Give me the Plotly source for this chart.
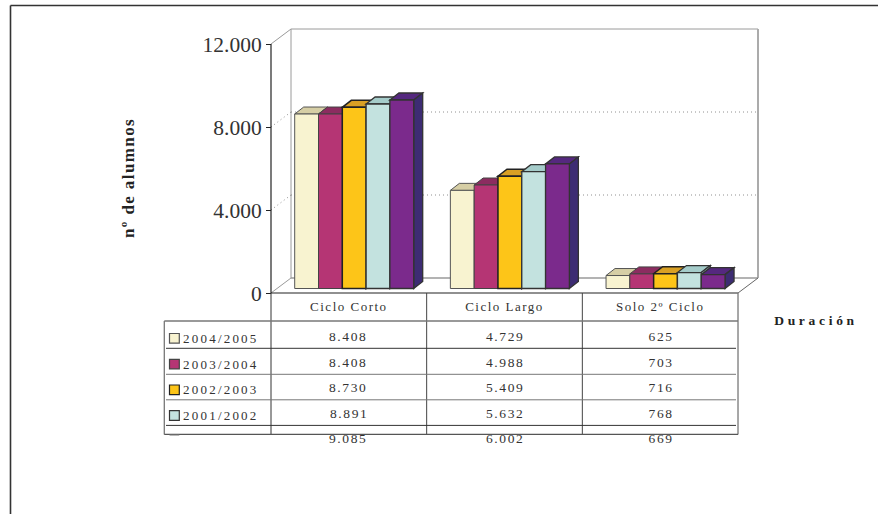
import json
import plotly.graph_objects as go

# ---------- data ----------
categories = ["Ciclo Corto", "Ciclo Largo", "Solo 2º Ciclo"]
series_2004_2005 = [8408, 4729, 625]
series_2003_2004 = [8408, 4988, 703]
series_2002_2003 = [8730, 5409, 716]
series_2001_2002 = [8891, 5632, 768]
series_last = [9085, 6002, 669]
series_values = [series_2004_2005, series_2003_2004, series_2002_2003, series_2001_2002, series_last]
series_names = ["2004/2005", "2003/2004", "2002/2003", "2001/2002", ""]
y_ticks = [0, 4000, 8000, 12000]
y_ticktext = ["0", "4.000", "8.000", "12.000"]

# ---------- styles ----------
front = ["#F8F3D0", "#B53574", "#FDC518", "#C3E2DF", "#7B2A8C"]
top = ["#D6CEA5", "#8C2C60", "#D9A024", "#A5CCCA", "#55287F"]
side = ["#B8B08A", "#6E2350", "#B08420", "#8FB5B3", "#3D2C73"]
edge = ["#555555", "#444444", "#222222", "#333333", "#333333"]
edge_w = [1, 1, 1.5, 1.3, 1.3]
FONT = "Liberation Serif"
INK = "#333333"

W, H = 878, 514
X0, Y0 = 271, 293            # origin of the front floor edge, pixels
UX = 155.67                  # pixels per category
UY = 249 / 12000             # pixels per unit of value
WALL_DX, WALL_DY = 20 / UX, 15 / UY
BAR_DX, BAR_DY = 9 / UX, 7 / UY
BAR_W = 23.8 / UX
BAR_LEFT = 23.7 / UX
BAR_BASE = 4.5 / UY
L, R, T, B = 262, 772, 20, 298
DOTS = "1px,3px"


def px(x):
    return x / W


def py(y):
    return 1 - y / H


shapes = []


def line(x0, y0, x1, y1, color, width=1, dash="solid", xref="x", yref="y", layer="below"):
    shapes.append(dict(type="line", x0=x0, y0=y0, x1=x1, y1=y1, xref=xref, yref=yref,
                       layer=layer, line=dict(color=color, width=width, dash=dash)))


def plate(pts, fill, color, width):
    path = "M" + " L".join(f"{a},{b}" for a, b in pts) + " Z"
    shapes.append(dict(type="path", path=path, xref="x", yref="y", layer="below",
                       fillcolor=fill, line=dict(color=color, width=width)))


# walls
n_cat = len(categories)
top_val = y_ticks[-1]
WALL = "#9A9A9A"
line(WALL_DX, WALL_DY, WALL_DX, top_val + WALL_DY, WALL)
line(WALL_DX, top_val + WALL_DY, n_cat + WALL_DX, top_val + WALL_DY, WALL)
line(n_cat + WALL_DX, WALL_DY, n_cat + WALL_DX, top_val + WALL_DY, "#ABABAB", 2)
line(WALL_DX, WALL_DY, n_cat + WALL_DX, WALL_DY, WALL, 1.5)
line(0, 0, WALL_DX, WALL_DY, WALL)
line(n_cat, 0, n_cat + WALL_DX, WALL_DY, "#666666")
line(0, top_val, WALL_DX, top_val + WALL_DY, WALL)
for v in y_ticks[1:-1]:
    line(0, v, WALL_DX, v + WALL_DY, "#909090", 1, DOTS)
    line(WALL_DX, v + WALL_DY, n_cat + WALL_DX, v + WALL_DY, "#909090", 1, DOTS)

# depth faces of the bars, derived from the values
for k, vals in enumerate(series_values):
    for c, v in enumerate(vals):
        xl = c + BAR_LEFT + k * BAR_W
        xr = xl + BAR_W
        yt = BAR_BASE + v
        plate([(xl, yt), (xr, yt), (xr + BAR_DX, yt + BAR_DY), (xl + BAR_DX, yt + BAR_DY)],
              top[k], edge[k], edge_w[k])
        plate([(xr, BAR_BASE), (xr + BAR_DX, BAR_BASE + BAR_DY), (xr + BAR_DX, yt + BAR_DY), (xr, yt)],
              side[k], edge[k], edge_w[k])

# front axis lines
line(0, 0, 0, top_val, "#222222", 1.2, layer="above")
line(0, 0, n_cat, 0, "#222222", 1.2, layer="above")

# table
TBL_TOP, TBL_BOT = 321, 434.4
TBL_LEFT = 164.3
rows_y = [348.3, 374.3, 399.8, 425.4]
rows_col = ["#333333", "#777777", "#777777", "#333333"]
for c in range(1, n_cat):
    shapes.append(dict(type="line", xref="x", yref="paper", x0=c, x1=c, y0=py(293), y1=py(TBL_BOT),
                       line=dict(color="#444444", width=1)))
shapes.append(dict(type="line", xref="x", yref="paper", x0=0, x1=0, y0=py(293), y1=py(TBL_BOT),
                   line=dict(color="#333333", width=1)))
shapes.append(dict(type="line", xref="x", yref="paper", x0=n_cat, x1=n_cat, y0=py(293), y1=py(TBL_BOT),
                   line=dict(color="#777777", width=1.3)))
paper_lines = [
    (TBL_LEFT, TBL_TOP, TBL_LEFT, TBL_BOT, "#777777", 1.3),
    (TBL_LEFT, TBL_TOP, 738, TBL_TOP, "#777777", 1.3),
    (TBL_LEFT, TBL_BOT, 738, TBL_BOT, "#555555", 1.2),
    # outer frame
    (10.5, 5.5, 878, 5.5, "#333333", 1.6),
    (10.5, 5.5, 10.5, 514, "#333333", 1.6),
]
for yy, col in zip(rows_y, rows_col):
    paper_lines.append((166, yy, 736, yy, col, 1))
for a, b, c, d, col, w in paper_lines:
    shapes.append(dict(type="line", xref="paper", yref="paper", x0=px(a), x1=px(c), y0=py(b), y1=py(d),
                       line=dict(color=col, width=w)))

# legend swatches
swatch_y = [333.5, 359.3, 385, 410.7]
for k, yy in enumerate(swatch_y):
    shapes.append(dict(type="rect", xref="paper", yref="paper", x0=px(169.5), x1=px(179.3),
                       y0=py(yy), y1=py(yy + 9.6), fillcolor=front[k],
                       line=dict(color=edge[k], width=1.2)))
shapes.append(dict(type="line", xref="paper", yref="paper", x0=px(169.5), x1=px(179.3),
                   y0=py(435.2), y1=py(435.2), line=dict(color="#999999", width=1)))

# text
annotations = []


def note(text, x, y, size=13, bold=False, angle=0):
    annotations.append(dict(text=f"<b>{text}</b>" if bold else text, xref="paper", yref="paper",
                            x=px(x), y=py(y), showarrow=False, xanchor="center", yanchor="middle",
                            textangle=angle, font=dict(family=FONT, size=size, color=INK if not bold else "#222222")))


row_text_y = [336.7, 362, 387.7, 413.5, 438.7]
col_x = [348.7, 505, 661]
for vals, yy in zip(series_values, row_text_y):
    for v, xx in zip(vals, col_x):
        note(f"{v:,}".replace(",", "."), xx, yy, 13.5)
legend_y = [338.5, 364, 389.5, 415]
for name, yy in zip(series_names, legend_y):
    if name:
        note(name, 221, yy, 13)
note("nº de alumnos", 128, 178, 17, bold=True, angle=-90)
note("Duración", 815.5, 320, 13.5, bold=True)

# ---------- figure ----------
fig = go.Figure()
centers = [c + 0.5 for c in range(n_cat)]
for k, vals in enumerate(series_values):
    fig.add_trace(go.Bar(
        x=centers, y=vals, base=BAR_BASE, name=series_names[k] or " ",
        width=BAR_W, offset=-0.5 + BAR_LEFT + k * BAR_W,
        marker=dict(color=front[k], line=dict(color=edge[k], width=edge_w[k])),
        showlegend=False, hoverinfo="skip"))

fig.update_layout(
    width=W, height=H, margin=dict(l=0, r=0, t=0, b=0),
    paper_bgcolor="white", plot_bgcolor="rgba(0,0,0,0)",
    barmode="overlay", showlegend=False, shapes=shapes, annotations=annotations,
    xaxis=dict(domain=[px(L), px(R)], range=[(L - X0) / UX, (R - X0) / UX], automargin=False,
               anchor="free", position=py(297), showgrid=False, zeroline=False, showline=False,
               tickmode="array", tickvals=centers, ticktext=categories, ticks="",
               tickfont=dict(family=FONT, size=13, color=INK)),
    yaxis=dict(domain=[py(B), py(T)], range=[(Y0 - B) / UY, (Y0 - T) / UY], automargin=False,
               anchor="free", position=px(X0), showgrid=False, zeroline=False, showline=False,
               tickmode="array", tickvals=y_ticks, ticktext=y_ticktext, ticks="outside",
               ticklen=5, tickcolor="#222222", tickwidth=1.2,
               tickfont=dict(family=FONT, size=21.5, color=INK)),
)

spacing = {"nº de alumnos": 1.4, "Duración": 3.7}
for name in series_names:
    if name:
        spacing[name] = 2.2
post = """
document.body.style.margin = '0';
var sp = %s;
document.querySelectorAll('.annotation-text').forEach(function (e) {
  var t = e.textContent;
  e.style.letterSpacing = (sp[t] !== undefined ? sp[t] : 1.6) + 'px';
});
document.querySelectorAll('.xtick text').forEach(function (e) { e.style.letterSpacing = '1.5px'; });
""" % json.dumps(spacing, ensure_ascii=False)

fig.write_html("out.html", post_script=post, config={"displayModeBar": False})
